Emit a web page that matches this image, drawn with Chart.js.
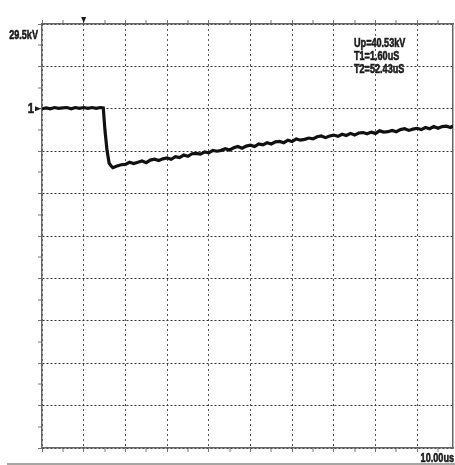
<!DOCTYPE html>
<html lang="en">
<head>
<meta charset="UTF-8">
<title>Impulse waveform</title>
<script src="https://cdn.jsdelivr.net/npm/chart.js"></script>
<style>
    html, body { margin: 0; padding: 0; background: #fff; }
    #scope { display: block; }
</style>
</head>
<body>
<canvas id="scope" width="455" height="465"></canvas>
<script>
    // time in us (10 us per division), trace height in divisions (0 = bottom, 10 = top)
    const timeUs = [
        0, 1, 2, 3, 4, 5, 6, 7, 8, 9, 10, 11, 12, 13, 14, 14.7,
        15.1, 15.6, 16.1, 16.6,
        17, 18, 19, 20, 21, 22, 23, 24, 25, 26, 27, 28, 29, 30, 31, 32, 33, 34, 35, 36, 37, 38, 39, 40,
        41, 42, 43, 44, 45, 46, 47, 48, 49, 50, 51, 52, 53, 54, 55, 56, 57, 58, 59, 60,
        61, 62, 63, 64, 65, 66, 67, 68, 69, 70, 71, 72, 73, 74, 75, 76, 77, 78, 79, 80,
        81, 82, 83, 84, 85, 86, 87, 88, 89, 90, 91, 92, 93, 94, 95, 96, 97, 98, 98.6
    ];
    const traceDiv = [
        8.00, 8.02, 8.00, 8.03, 8.01, 8.02, 8.03, 8.00, 8.03, 8.01, 8.03, 8.01, 8.03, 8.01, 8.03, 8.02,
        7.50, 7.02, 6.72, 6.65,
        6.61, 6.65, 6.68, 6.69, 6.74, 6.71, 6.74, 6.77, 6.73, 6.79, 6.81, 6.78, 6.82, 6.84, 6.81, 6.87, 6.85, 6.91, 6.88, 6.94, 6.95, 6.93, 6.98, 6.96,
        7.02, 7.00, 7.02, 7.06, 7.03, 7.08, 7.11, 7.07, 7.12, 7.14, 7.11, 7.17, 7.15, 7.20, 7.17, 7.22, 7.23, 7.20, 7.26, 7.23,
        7.29, 7.26, 7.28, 7.31, 7.29, 7.34, 7.36, 7.32, 7.36, 7.38, 7.35, 7.40, 7.37, 7.42, 7.38, 7.43, 7.44, 7.41, 7.45, 7.42,
        7.48, 7.45, 7.46, 7.49, 7.46, 7.51, 7.53, 7.49, 7.52, 7.54, 7.51, 7.56, 7.53, 7.58, 7.54, 7.58, 7.59, 7.56, 7.60
    ];

    const readout = ['Up=40.53kV', 'T1=1.60uS', 'T2=52.43uS'];
    const scaleLabel = '29.5kV';
    const timeBase = '10.00us';
    const channelTag = '1';
    const triggerAt = 10;   // us
    const refLevel = 8;     // divisions

    const labelFont = "bold 13px 'Liberation Sans', Arial, sans-serif";

    const isMajor = (c, step) => c.tick && Math.abs(c.tick.value / step - Math.round(c.tick.value / step)) < 1e-6;

    // condensed, heavy text like the scope's own font
    function narrowText(ctx, text, x, y, squeeze) {
        ctx.save();
        ctx.translate(x, y);
        ctx.scale(squeeze, 1);
        ctx.fillText(text, 0, 0);
        ctx.strokeText(text, 0, 0);
        ctx.restore();
    }

    const scopeMarks = {
        id: 'scopeMarks',
        afterDraw(chart) {
            const ctx = chart.ctx;
            const xs = chart.scales.x;
            const ys = chart.scales.y;
            const area = chart.chartArea;
            ctx.save();
            ctx.fillStyle = '#1a1a1a';
            ctx.strokeStyle = '#1a1a1a';
            ctx.lineWidth = 0.6;
            ctx.font = labelFont;
            ctx.textBaseline = 'middle';

            ctx.textAlign = 'right';
            narrowText(ctx, scaleLabel, area.left - 4, ys.getPixelForValue(9.74), 0.7);

            // channel marker
            const yRef = ys.getPixelForValue(refLevel);
            ctx.font = "bold 15px 'Liberation Sans', Arial, sans-serif";
            narrowText(ctx, channelTag, area.left - 8, yRef + 0.5, 0.75);
            ctx.beginPath();
            ctx.moveTo(area.left - 7, yRef - 2.5);
            ctx.lineTo(area.left - 1, yRef);
            ctx.lineTo(area.left - 7, yRef + 2.5);
            ctx.closePath();
            ctx.fill();

            // trigger marker
            const xTrig = xs.getPixelForValue(triggerAt);
            ctx.beginPath();
            ctx.moveTo(xTrig - 2.5, area.top - 7);
            ctx.lineTo(xTrig + 2.5, area.top - 7);
            ctx.lineTo(xTrig, area.top - 1);
            ctx.closePath();
            ctx.fill();

            ctx.font = labelFont;
            ctx.textAlign = 'left';
            readout.forEach((t, i) => narrowText(ctx, t, area.left + 312, area.top + 19 + i * 13, 0.7));

            ctx.textAlign = 'right';
            narrowText(ctx, timeBase, area.right + 1, area.bottom + 10, 0.7);

            ctx.fillStyle = '#a7a69e';
            ctx.fillRect(7, area.bottom + 15, chart.width - 7, 3);
            ctx.restore();
        }
    };

    const hGrid = {
        color: '#333',
        lineWidth: c => isMajor(c, 1) ? 1 : 0,
        drawTicks: true,
        tickLength: 4,
        tickColor: '#777',
        tickWidth: 1
    };
    const vGrid = {
        color: '#555',
        lineWidth: c => isMajor(c, 10) ? 1 : 0,
        drawTicks: true,
        tickLength: 4,
        tickColor: '#777',
        tickWidth: 1
    };

    new Chart(document.getElementById('scope'), {
        type: 'line',
        data: {
            datasets: [{
                data: timeUs.map((t, i) => ({ x: t, y: traceDiv[i] })),
                borderColor: '#111',
                borderWidth: 3.2,
                borderJoinStyle: 'miter',
                pointRadius: 0,
                tension: 0,
                fill: false
            }]
        },
        options: {
            responsive: false,
            animation: false,
            layout: { padding: { left: 38, top: 20, right: 2, bottom: 13 } },
            plugins: { legend: { display: false }, tooltip: { enabled: false } },
            scales: {
                x: {
                    type: 'linear', position: 'bottom', min: 0, max: 98.6,
                    ticks: { display: false, stepSize: 5, includeBounds: false },
                    grid: vGrid,
                    border: { display: true, color: '#666', width: 1.5, dash: [2, 3] }
                },
                x2: {
                    type: 'linear', position: 'top', min: 0, max: 98.6,
                    ticks: { display: false, stepSize: 5, includeBounds: false },
                    grid: Object.assign({}, vGrid, { drawOnChartArea: false }),
                    border: { display: true, color: '#666', width: 1.5 }
                },
                y: {
                    type: 'linear', position: 'left', min: 0, max: 10,
                    ticks: { display: false, stepSize: 0.5 },
                    grid: hGrid,
                    border: { display: true, color: '#666', width: 1.5, dash: [2, 2] }
                },
                y2: {
                    type: 'linear', position: 'right', min: 0, max: 10,
                    ticks: { display: false },
                    grid: { display: false, drawTicks: false },
                    border: { display: true, color: '#666', width: 1.5 }
                }
            }
        },
        plugins: [scopeMarks]
    });
</script>
</body>
</html>
